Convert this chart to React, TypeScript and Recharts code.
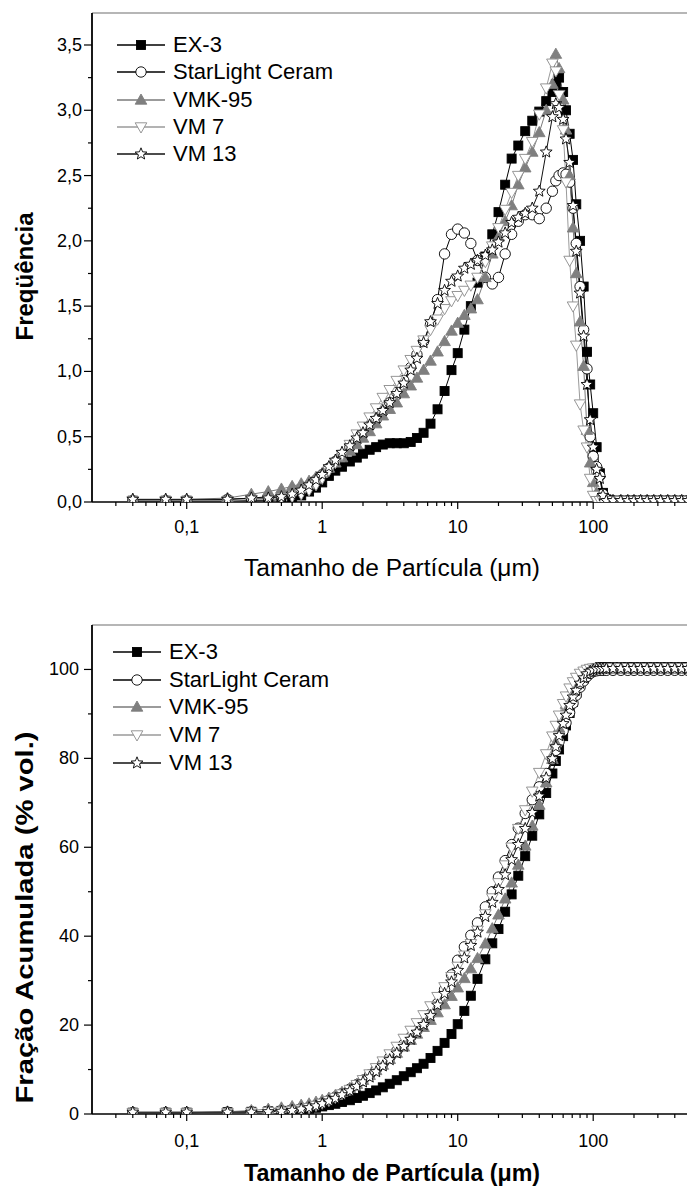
import React from "react";
import { LineChart, Line, XAxis, YAxis, ReferenceLine, Legend, Label } from "recharts";

const FONT = "'Liberation Sans', Arial, Helvetica, sans-serif";

// particle sizes (µm)
const SIZES = [
  0.04, 0.07, 0.1, 0.2, 0.3, 0.4, 0.5, 0.6, 0.7, 0.8, 0.9,
  1.0, 1.12, 1.25, 1.4, 1.6, 1.8, 2.0, 2.24, 2.5, 2.8, 3.15, 3.55, 4.0, 4.5, 5.0, 5.6, 6.3, 7.1, 8.0, 9.0,
  10, 11.2, 12.5, 14, 16, 18, 20, 22.4, 25, 28, 31.5, 35.5, 40, 45,
  50, 53, 56, 60, 63, 67, 71, 75, 80, 85, 90, 95, 100, 106, 112, 118, 125,
  140, 160, 180, 200, 224, 250, 280, 315, 355, 400, 450, 500,
];

// frequency (top chart)
const FREQ_EX3 = [
  0.01, 0.01, 0.01, 0.01, 0.01, 0.01, 0.02, 0.03, 0.05, 0.08, 0.11,
  0.15, 0.2, 0.24, 0.27, 0.31, 0.34, 0.37, 0.4, 0.42, 0.44, 0.45, 0.45, 0.45, 0.46, 0.49, 0.53, 0.6, 0.71, 0.85, 1.01,
  1.14, 1.32, 1.5, 1.68, 1.88, 2.05, 2.22, 2.43, 2.63, 2.73, 2.84, 2.92, 2.99, 3.07,
  3.14, 3.2, 3.25, 3.14, 3.0, 2.82, 2.62, 2.28, 2.0, 1.65, 1.15, 0.9, 0.68, 0.42, 0.22, 0.07, 0.02,
  0.01, 0.01, 0.01, 0.01, 0.01, 0.01, 0.01, 0.01, 0.01, 0.01, 0.01, 0.01,
];
const FREQ_SLC = [
  0.01, 0.01, 0.01, 0.02, 0.03, 0.04, 0.05, 0.07, 0.1, 0.13, 0.17,
  0.21, 0.26, 0.31, 0.36, 0.42, 0.47, 0.52, 0.58, 0.63, 0.69, 0.76, 0.84, 0.93, 1.03, 1.13, 1.23, 1.36, 1.55, 1.9, 2.05,
  2.09, 2.06, 1.98, 1.85, 1.72, 1.67, 1.72, 1.9, 2.05, 2.15, 2.2, 2.2, 2.17, 2.25,
  2.38, 2.46, 2.5, 2.52, 2.51, 2.45, 2.25, 1.98, 1.65, 1.32, 1.02, 0.5, 0.35, 0.27, 0.2, 0.06, 0.02,
  0.01, 0.01, 0.01, 0.01, 0.01, 0.01, 0.01, 0.01, 0.01, 0.01, 0.01, 0.01,
];
const FREQ_VMK95 = [
  0.02, 0.02, 0.02, 0.03, 0.06, 0.08, 0.1, 0.12, 0.14, 0.16, 0.19,
  0.22, 0.26, 0.3, 0.34, 0.39, 0.44, 0.49, 0.54, 0.6, 0.66, 0.71, 0.76, 0.83, 0.89, 0.95, 1.01, 1.08, 1.15, 1.23, 1.31,
  1.37, 1.43, 1.48, 1.55, 1.72, 1.9, 2.03, 2.15, 2.27, 2.43, 2.56, 2.68, 2.83, 3.0,
  3.2, 3.43, 3.32, 3.08, 2.85, 2.5, 2.1, 1.75, 1.38, 1.04, 0.55, 0.3, 0.15, 0.07, 0.03, 0.01, 0.01,
  0.01, 0.01, 0.01, 0.01, 0.01, 0.01, 0.01, 0.01, 0.01, 0.01, 0.01, 0.01,
];
const FREQ_VM7 = [
  0.01, 0.01, 0.01, 0.01, 0.02, 0.02, 0.03, 0.04, 0.06, 0.09, 0.13,
  0.18, 0.24, 0.3, 0.36, 0.44, 0.52, 0.58, 0.65, 0.72, 0.8, 0.86, 0.93, 1.01, 1.09, 1.16, 1.24, 1.32, 1.4, 1.48, 1.54,
  1.58, 1.62, 1.66, 1.72, 1.84, 1.96, 2.1, 2.24, 2.37, 2.5, 2.63, 2.76, 2.97, 3.17,
  3.36, 3.3, 3.12, 2.85, 2.45, 1.85, 1.5, 1.2, 0.75, 0.55, 0.42, 0.18, 0.05, 0.01, 0.01, 0.01, 0.01,
  0.01, 0.01, 0.01, 0.01, 0.01, 0.01, 0.01, 0.01, 0.01, 0.01, 0.01, 0.01,
];
const FREQ_VM13 = [
  0.02, 0.02, 0.02, 0.02, 0.03, 0.03, 0.04, 0.06, 0.09, 0.13, 0.17,
  0.21, 0.27, 0.32, 0.38, 0.43, 0.49, 0.53, 0.59, 0.64, 0.7, 0.76, 0.83, 0.91, 1.01, 1.1, 1.22, 1.38, 1.52, 1.62, 1.69,
  1.73, 1.79, 1.82, 1.85, 1.89, 1.93, 1.99, 2.06, 2.14, 2.18, 2.21, 2.25, 2.38, 2.68,
  2.95, 3.05, 3.02, 2.93, 2.78, 2.6, 2.27, 1.92, 1.6, 1.27, 0.9, 0.63, 0.42, 0.25, 0.18, 0.05, 0.01,
  0.01, 0.01, 0.01, 0.01, 0.01, 0.01, 0.01, 0.01, 0.01, 0.01, 0.01, 0.01,
];

// cumulative fraction, % vol. (bottom chart)
const CUM_EX3 = [
  0.3, 0.3, 0.3, 0.4, 0.5, 0.6, 0.7, 0.8, 1.0, 1.2, 1.4,
  1.7, 2.0, 2.3, 2.7, 3.1, 3.6, 4.1, 4.7, 5.3, 6.0, 6.8, 7.6, 8.5, 9.4, 10.3, 11.3, 12.6, 14.2, 16.0, 18.0,
  20.2, 23.2, 26.6, 30.4, 34.8, 38.4, 41.6, 45.5, 49.4, 53.6, 58.0, 62.6, 67.4, 72.2,
  76.6, 79.4, 82.0, 85.0, 87.4, 90.2, 92.7, 94.7, 96.6, 98.0, 99.0, 99.6, 100.0, 100.3, 100.5, 100.5, 100.5,
  100.5, 100.5, 100.5, 100.5, 100.5, 100.5, 100.5, 100.5, 100.5, 100.5, 100.5, 100.5,
];
const CUM_SLC = [
  0.3, 0.3, 0.3, 0.4, 0.5, 0.6, 0.8, 1.0, 1.3, 1.6, 2.0,
  2.5, 3.1, 3.8, 4.6, 5.6, 6.6, 7.6, 8.8, 10.0, 11.3, 12.7, 14.2, 15.7, 17.3, 18.8, 20.4, 22.5, 24.9, 28.0, 31.3,
  34.6, 37.6, 40.2, 43.0, 46.6, 50.0, 53.3, 57.0, 60.6, 64.3, 67.6, 70.7, 73.6, 76.6,
  79.8, 81.8, 83.8, 86.2, 88.0, 90.3, 92.4, 94.2, 96.0, 97.4, 98.4, 99.1, 99.5, 99.7, 99.8, 99.8, 99.8,
  99.8, 99.8, 99.8, 99.8, 99.8, 99.8, 99.8, 99.8, 99.8, 99.8, 99.8, 99.8,
];
const CUM_VMK95 = [
  0.4, 0.4, 0.4, 0.5, 0.8, 1.1, 1.4, 1.7, 2.0, 2.3, 2.7,
  3.1, 3.6, 4.2, 4.9, 5.8, 6.7, 7.6, 8.7, 9.8, 11.0, 12.3, 13.7, 15.1, 16.6, 18.0, 19.5, 21.1, 22.8, 24.6, 26.5,
  28.4, 30.5, 32.7, 35.0, 38.3, 41.7, 44.8, 48.4, 52.0, 56.0, 60.3, 64.8, 69.5, 74.5,
  79.8, 83.5, 86.8, 90.0, 92.2, 94.4, 96.0, 97.3, 98.5, 99.3, 99.7, 99.9, 100.0, 100.1, 100.1, 100.1, 100.1,
  100.1, 100.1, 100.1, 100.1, 100.1, 100.1, 100.1, 100.1, 100.1, 100.1, 100.1, 100.1,
];
const CUM_VM7 = [
  0.3, 0.3, 0.3, 0.3, 0.4, 0.5, 0.6, 0.8, 1.1, 1.4, 1.9,
  2.4, 3.0, 3.7, 4.5, 5.5, 6.6, 7.7, 9.0, 10.4, 11.9, 13.5, 15.2, 17.0, 18.8, 20.5, 22.3, 24.3, 26.4, 28.6, 30.9,
  33.2, 35.7, 38.3, 41.3, 45.0, 48.6, 52.0, 56.0, 60.0, 64.2, 68.4, 72.6, 76.8, 81.0,
  85.0, 87.4, 89.7, 92.3, 94.0, 95.8, 97.2, 98.2, 99.1, 99.6, 100.0, 100.2, 100.3, 100.4, 100.4, 100.4, 100.4,
  100.4, 100.4, 100.4, 100.4, 100.4, 100.4, 100.4, 100.4, 100.4, 100.4, 100.4, 100.4,
];
const CUM_VM13 = [
  0.4, 0.4, 0.4, 0.4, 0.4, 0.5, 0.6, 0.8, 1.1, 1.4, 1.8,
  2.3, 2.9, 3.5, 4.3, 5.2, 6.2, 7.2, 8.3, 9.5, 10.8, 12.2, 13.7, 15.2, 16.8, 18.4, 20.1, 22.1, 24.5, 27.1, 29.7,
  32.3, 35.1, 37.9, 40.9, 44.4, 47.6, 50.5, 53.8, 57.2, 60.6, 64.2, 67.8, 71.5, 75.6,
  79.9, 82.6, 85.1, 87.8, 89.7, 91.9, 93.8, 95.3, 96.9, 98.1, 99.0, 99.6, 99.9, 100.1, 100.2, 100.2, 100.2,
  100.2, 100.2, 100.2, 100.2, 100.2, 100.2, 100.2, 100.2, 100.2, 100.2, 100.2, 100.2,
];

const X_TICKS = [
  0.03, 0.04, 0.05, 0.06, 0.07, 0.08, 0.09,
  0.1, 0.2, 0.3, 0.4, 0.5, 0.6, 0.7, 0.8, 0.9,
  1, 2, 3, 4, 5, 6, 7, 8, 9,
  10, 20, 30, 40, 50, 60, 70, 80, 90,
  100, 200, 300, 400, 500, 600, 700, 800, 900,
];
const X_MAJOR = [0.1, 1, 10, 100];
const X_LABELS = ["0,1", "1", "10", "100"];

const FREQ_TICKS = [0, 0.25, 0.5, 0.75, 1, 1.25, 1.5, 1.75, 2, 2.25, 2.5, 2.75, 3, 3.25, 3.5];
const FREQ_MAJOR = [0, 0.5, 1, 1.5, 2, 2.5, 3, 3.5];
const CUM_TICKS = [0, 10, 20, 30, 40, 50, 60, 70, 80, 90, 100];
const CUM_MAJOR = [0, 20, 40, 60, 80, 100];

const SERIES = [
  { key: "ex3", name: "EX-3", line: "#000", shape: "square", fill: "#000", stroke: "#000" },
  { key: "slc", name: "StarLight Ceram", line: "#000", shape: "circle", fill: "#fff", stroke: "#000" },
  { key: "vmk", name: "VMK-95", line: "#7a7a7a", shape: "up", fill: "#7f7f7f", stroke: "#7f7f7f" },
  { key: "vm7", name: "VM 7", line: "#9a9a9a", shape: "down", fill: "#fff", stroke: "#8a8a8a" },
  { key: "vm13", name: "VM 13", line: "#111", shape: "star", fill: "#fff", stroke: "#000" },
];

function Marker({ shape, cx, cy, fill, stroke }: any) {
  if (cx == null || cy == null || isNaN(cx) || isNaN(cy)) return null;
  const common = { fill, stroke, strokeWidth: 0.9 };
  if (shape === "square") return <rect x={cx - 4.5} y={cy - 4.5} width={9} height={9} {...common} />;
  if (shape === "circle") return <circle cx={cx} cy={cy} r={5.2} {...common} />;
  if (shape === "up") return <path d={`M${cx},${cy - 6}L${cx + 5.8},${cy + 4.2}L${cx - 5.8},${cy + 4.2}Z`} {...common} />;
  if (shape === "down") return <path d={`M${cx - 5.8},${cy - 4.2}L${cx + 5.8},${cy - 4.2}L${cx},${cy + 6}Z`} {...common} />;
  const pts: string[] = [];
  for (let i = 0; i < 10; i++) {
    const a = -Math.PI / 2 + (i * Math.PI) / 5;
    const r = i % 2 === 0 ? 6.2 : 2.7;
    pts.push(`${cx + r * Math.cos(a)},${cy + r * Math.sin(a)}`);
  }
  return <polygon points={pts.join(" ")} {...common} />;
}

function LegendBox({ rowH, fontSize }: any) {
  return (
    <div style={{ fontFamily: FONT, fontSize, color: "#000" }}>
      {SERIES.map((s) => (
        <div key={s.key} style={{ display: "flex", alignItems: "center", height: rowH, whiteSpace: "nowrap" }}>
          <svg width={48} height={16} style={{ display: "block" }}>
            <line x1={0} x2={48} y1={8} y2={8} stroke={s.line} strokeWidth={1.3} />
            <Marker shape={s.shape} cx={24} cy={8} fill={s.fill} stroke={s.stroke} />
          </svg>
          <span style={{ marginLeft: 8, lineHeight: 1 }}>{s.name}</span>
        </div>
      ))}
    </div>
  );
}

function XTick(props: any) {
  const { x, y, payload, labelDy } = props;
  const i = X_MAJOR.indexOf(payload.value);
  const major = i >= 0;
  return (
    <g>
      <line x1={x} x2={x} y1={y} y2={y + (major ? 7 : 4)} stroke="#000" strokeWidth={1.2} />
      {major && (
        <text x={x} y={y + labelDy} textAnchor="middle" fontFamily={FONT} fontSize={18} fill="#000">
          {X_LABELS[i]}
        </text>
      )}
    </g>
  );
}

function YTick(props: any) {
  const { x, y, payload, majors, fmt, gap } = props;
  const major = majors.includes(payload.value);
  return (
    <g>
      <line x1={x - (major ? 8 : 4)} x2={x} y1={y} y2={y} stroke="#000" strokeWidth={1.2} />
      {major && (
        <text x={x - gap} y={y} textAnchor="end" dominantBaseline="central" fontFamily={FONT} fontSize={18} fill="#000">
          {fmt(payload.value)}
        </text>
      )}
    </g>
  );
}

function Panel(props: any) {
  const { data, height, margin, yDomain, yTicks, yMajor, fmt, yGap, yTitle, yTitleLen, yTitleDy, xTitle, xTitleBold, xTitleDy, labelDy, legendTop, legendLeft, legendRow } = props;
  return (
    <LineChart width={740} height={height} data={data} margin={margin}>
      <XAxis
        dataKey="size"
        type="number"
        scale="log"
        domain={[0.02, 1000]}
        allowDataOverflow
        ticks={X_TICKS}
        interval={0}
        height={30}
        tickSize={0}
        tickMargin={0}
        tickLine={false}
        axisLine={{ stroke: "#000", strokeWidth: 1.5 }}
        tick={(p: any) => <XTick {...p} labelDy={labelDy} />}
      >
        <Label
          content={(p: any) => {
            const vb = p.viewBox;
            return (
              <text
                x={vb.x + 300}
                y={vb.y + xTitleDy}
                textAnchor="middle"
                fontFamily={FONT}
                fontSize={xTitleBold ? 24 : 23}
                fontWeight={xTitleBold ? "bold" : "normal"}
                textLength={296}
                lengthAdjust="spacingAndGlyphs"
                fill="#000"
              >
                {xTitle}
              </text>
            );
          }}
        />
      </XAxis>
      <YAxis
        type="number"
        domain={yDomain}
        allowDataOverflow
        ticks={yTicks}
        interval={0}
        width={60}
        tickSize={0}
        tickMargin={0}
        tickLine={false}
        axisLine={{ stroke: "#000", strokeWidth: 1.8 }}
        tick={(p: any) => <YTick {...p} majors={yMajor} fmt={fmt} gap={yGap} />}
      >
        <Label
          content={(p: any) => {
            const vb = p.viewBox;
            const cx = vb.x + vb.width - 68;
            const cy = vb.y + vb.height / 2 + yTitleDy;
            return (
              <text
                x={cx}
                y={cy}
                transform={`rotate(-90 ${cx} ${cy})`}
                textAnchor="middle"
                dominantBaseline="central"
                fontFamily={FONT}
                fontSize={24}
                fontWeight="bold"
                textLength={yTitleLen}
                lengthAdjust="spacingAndGlyphs"
                fill="#000"
              >
                {yTitle}
              </text>
            );
          }}
        />
      </YAxis>
      <ReferenceLine y={yDomain[1]} stroke="#6e6e6e" strokeWidth={1.2} />
      {SERIES.map((s) => (
        <Line
          key={s.key}
          dataKey={s.key}
          name={s.name}
          type="linear"
          stroke={s.line}
          strokeWidth={1}
          isAnimationActive={false}
          activeDot={false}
          dot={(p: any) => (
            <Marker key={`${s.key}-${p.index}`} shape={s.shape} cx={p.cx} cy={p.cy} fill={s.fill} stroke={s.stroke} />
          )}
        />
      ))}
      <Legend
        layout="horizontal"
        verticalAlign="middle"
        align="center"
        wrapperStyle={{ left: legendLeft, top: legendTop, width: 260 }}
        content={() => <LegendBox rowH={legendRow} fontSize={22} />}
      />
    </LineChart>
  );
}

export default function App() {
  const freqData = SIZES.map((size, i) => ({
    size,
    ex3: FREQ_EX3[i],
    slc: FREQ_SLC[i],
    vmk: FREQ_VMK95[i],
    vm7: FREQ_VM7[i],
    vm13: FREQ_VM13[i],
  }));
  const cumData = SIZES.map((size, i) => ({
    size,
    ex3: CUM_EX3[i],
    slc: CUM_SLC[i],
    vmk: CUM_VMK95[i],
    vm7: CUM_VM7[i],
    vm13: CUM_VM13[i],
  }));

  return (
    <div style={{ position: "absolute", left: 0, top: 0, width: 687, height: 1188, overflow: "hidden", background: "#fff" }}>
      <div style={{ position: "absolute", left: 0, top: 0 }}>
        <Panel
          data={freqData}
          height={600}
          margin={{ top: 13, right: 11.3, bottom: 68, left: 32 }}
          yDomain={[0, 3.745]}
          yTicks={FREQ_TICKS}
          yMajor={FREQ_MAJOR}
          fmt={(v: number) => v.toFixed(1).replace(".", ",")}
          yGap={10}
          yTitle="Freqüência"
          yTitleLen={128}
          yTitleDy={19}
          xTitle="Tamanho de Partícula (μm)"
          xTitleBold={false}
          xTitleDy={74}
          labelDy={31}
          legendTop={31.4}
          legendLeft={117}
          legendRow={27.25}
        />
      </div>
      <div style={{ position: "absolute", left: 0, top: 600 }}>
        <Panel
          data={cumData}
          height={588}
          margin={{ top: 25, right: 11.3, bottom: 44, left: 32 }}
          yDomain={[0, 110]}
          yTicks={CUM_TICKS}
          yMajor={CUM_MAJOR}
          fmt={(v: number) => String(v)}
          yGap={13}
          yTitle="Fração Acumulada (% vol.)"
          yTitleLen={372}
          yTitleDy={48}
          xTitle="Tamanho de Partícula (μm)"
          xTitleBold={true}
          xTitleDy={67}
          labelDy={33}
          legendTop={38.1}
          legendLeft={113}
          legendRow={27.75}
        />
      </div>
    </div>
  );
}
